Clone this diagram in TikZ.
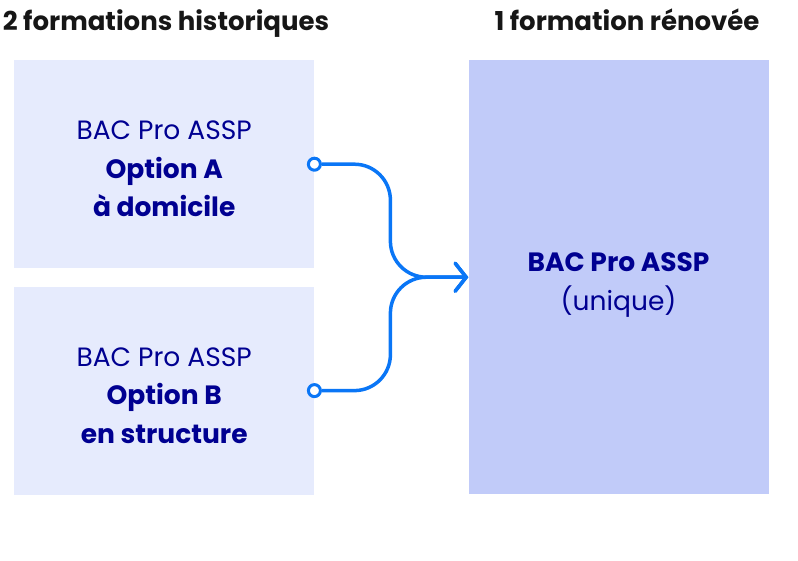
\documentclass[tikz,border=0pt]{standalone}
\usepackage{fontspec}
\setmainfont{Poppins}
\usetikzlibrary{arrows.meta,positioning}

\definecolor{bleufrance}{HTML}{000091}
\definecolor{titre}{HTML}{161616}
\definecolor{fondclair}{HTML}{E6EBFD}
\definecolor{fondfonce}{HTML}{C1CBF9}
\definecolor{trait}{HTML}{0A76F6}

\begin{document}
\begin{tikzpicture}[
    x = 1pt, y = -1pt, % pixel grid, y going down
    > = {Straight Barb[length=11pt,width=28pt,line cap=round]},
    node distance = 19pt, % gap between the two old boxes
    font = \fontsize{26.5}{38.5}\selectfont
    ]

    \tikzset{
    box/.style = {fill = fondclair, minimum width = 300pt,
        minimum height = 208pt, inner sep = 0pt},
    boxtext/.style = {text = bleufrance, align = center, yshift = -5pt},
    title/.style = {anchor = base, text = titre,
        font = \fontsize{26}{30}\selectfont\bfseries},
    flow/.style = {draw = trait, line width = 3.5pt, rounded corners = 36pt},
    dot/.style = {circle, draw = trait, line width = 3pt, fill = white,
        minimum size = 12pt, inner sep = 0pt}
    }

    \useasboundingbox (0,0) rectangle (798,560);

    \node[title] (thist) at (166,30) {2 formations historiques};
    \node[title] (tnew) at (627,30) {1 formation rénovée};

    % boxes
    \node[box, anchor = north west] (optA) at (14,60) {};
    \node[box, below = 18pt of optA] (optB) {};
    \node[box, fill = fondfonce, minimum height = 434pt,
        right = 154pt of optA.north east, anchor = north west] (unique) {};

    % texts
    \node[boxtext] (tA) at (optA) {BAC Pro ASSP\\\textbf{Option A}\\\textbf{à domicile}};
    \node[boxtext] (tB) at (optB) {BAC Pro ASSP\\\textbf{Option B}\\\textbf{en structure}};
    \node[boxtext, yshift = -3pt] (tU) at (unique) {\textbf{BAC Pro ASSP}\\(unique)};

    \coordinate[left = 78pt of unique.west] (join);
    \node[dot] (pA) at (optA.east) {};
    \node[dot] (pB) at (optB.east) {};

    \draw[flow, ->] (pA) -| (join) -- (unique.west);
    \draw[flow, ->] (pB) -| (join) -- (unique.west);

    \end{tikzpicture}
\end{document}
